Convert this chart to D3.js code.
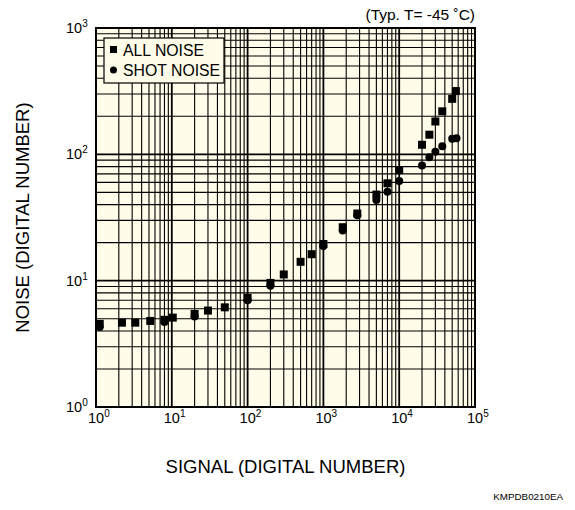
<!DOCTYPE html>
<html>
<head>
<meta charset="utf-8">
<script src="https://cdn.jsdelivr.net/npm/d3@7"></script>
<style>
  body { margin: 0; background: #fff; }
  svg { display: block; font-family: "Liberation Sans", Arial, sans-serif; }
</style>
</head>
<body>
<svg id="chart" width="575" height="510"></svg>
<script>
// values (log-log)
const xDecades = [0, 1, 2, 3, 4, 5];
const yDecades = [0, 1, 2, 3];

const allSignal = [1.12, 2.2, 3.3, 5.2, 8, 10.3, 20, 30, 50, 100, 200, 300, 500, 700, 1000, 1800, 2800, 5000, 7000, 10000, 20000, 25000, 30000, 37000, 50000, 56000];
const allNoise  = [4.55, 4.65, 4.65, 4.8, 4.9, 5.1, 5.45, 5.8, 6.15, 7.3, 9.6, 11.2, 14.1, 16.2, 19.5, 26.5, 34, 48, 59, 75, 119, 143, 182, 219, 275, 317];

const shotSignal = [1.12, 8, 20, 100, 200, 1000, 1800, 2800, 5000, 7000, 10000, 20000, 25000, 30000, 37000, 50000, 57000];
const shotNoise  = [4.3, 4.7, 5.2, 7.0, 9.1, 18.8, 25, 33, 43.5, 50.5, 61.5, 81.5, 95, 105, 116, 133, 134];

const W = 575, H = 510;
const margin = {top: 28, right: 100, bottom: 103, left: 96};

const svg = d3.select("#chart");

const x = d3.scaleLog().domain([1, 1e5]).range([margin.left, W - margin.right]);
const y = d3.scaleLog().domain([1, 1e3]).range([H - margin.bottom, margin.top]);

// plot background
svg.append("rect")
  .attr("x", margin.left).attr("y", margin.top)
  .attr("width", W - margin.left - margin.right)
  .attr("height", H - margin.top - margin.bottom)
  .attr("fill", "#fffce9");

// grid: 1..9 in every decade
const gridVals = (lo, hi) => {
  let out = [];
  for (let e = lo; e < hi; e++) {
    for (let m = 1; m < 10; m++) out.push({v: m * Math.pow(10, e), major: m == 1});
  }
  return out;
};

const grid = svg.append("g");

grid.selectAll("line.vx")
  .data(gridVals(0, 5).filter(d => !d.major))
  .join("line")
  .attr("class", "vx")
  .attr("x1", d => x(d.v)).attr("x2", d => x(d.v))
  .attr("y1", margin.top).attr("y2", H - margin.bottom)
  .attr("stroke", "#000").attr("stroke-width", 1.1);

grid.selectAll("line.hy")
  .data(gridVals(0, 3).filter(d => !d.major))
  .join("line")
  .attr("class", "hy")
  .attr("y1", d => y(d.v)).attr("y2", d => y(d.v))
  .attr("x1", margin.left).attr("x2", W - margin.right)
  .attr("stroke", "#000").attr("stroke-width", 1.1);

// decade lines a little heavier
grid.selectAll("line.mx")
  .data(xDecades.slice(1, -1))
  .join("line")
  .attr("class", "mx")
  .attr("x1", d => x(Math.pow(10, d))).attr("x2", d => x(Math.pow(10, d)))
  .attr("y1", margin.top).attr("y2", H - margin.bottom)
  .attr("stroke", "#000").attr("stroke-width", 1.8);

grid.selectAll("line.my")
  .data(yDecades.slice(1, -1))
  .join("line")
  .attr("class", "my")
  .attr("y1", d => y(Math.pow(10, d))).attr("y2", d => y(Math.pow(10, d)))
  .attr("x1", margin.left).attr("x2", W - margin.right)
  .attr("stroke", "#000").attr("stroke-width", 1.8);

// frame
svg.append("rect")
  .attr("x", margin.left).attr("y", margin.top)
  .attr("width", W - margin.left - margin.right)
  .attr("height", H - margin.top - margin.bottom)
  .attr("fill", "none").attr("stroke", "#000").attr("stroke-width", 2);

// points
const marks = svg.append("g");
marks.selectAll("circle")
  .data(d3.zip(shotSignal, shotNoise))
  .join("circle")
  .attr("cx", d => x(d[0])).attr("cy", d => y(d[1]))
  .attr("r", 4).attr("fill", "#000");

const sq = 8;
marks.selectAll("rect")
  .data(d3.zip(allSignal, allNoise))
  .join("rect")
  .attr("x", d => x(d[0]) - sq / 2).attr("y", d => y(d[1]) - sq / 2)
  .attr("width", sq).attr("height", sq)
  .attr("fill", "#000");

// tick labels 10^n
const xl = svg.append("g").attr("font-size", 14.5).attr("fill", "#000");
xDecades.forEach(e => {
  const t = xl.append("text")
    .attr("x", x(Math.pow(10, e)) - 8).attr("y", 423);
  t.append("tspan").text("10");
  t.append("tspan").attr("dy", -6).attr("font-size", 10).text(e);
});

const yl = svg.append("g").attr("font-size", 14.5).attr("fill", "#000");
yDecades.forEach(e => {
  const t = yl.append("text")
    .attr("x", 66).attr("y", y(Math.pow(10, e)) + 5);
  t.append("tspan").text("10");
  t.append("tspan").attr("dy", -6).attr("font-size", 10).text(e);
});

// axis titles
svg.append("text")
  .attr("x", (margin.left + W - margin.right) / 2).attr("y", 473)
  .attr("text-anchor", "middle").attr("font-size", 18.5)
  .text("SIGNAL (DIGITAL NUMBER)");

svg.append("text")
  .attr("transform", `translate(29,${(margin.top + H - margin.bottom) / 2}) rotate(-90)`)
  .attr("text-anchor", "middle").attr("font-size", 18.5)
  .text("NOISE (DIGITAL NUMBER)");

svg.append("text")
  .attr("x", W - margin.right).attr("y", 20)
  .attr("text-anchor", "end").attr("font-size", 15.5)
  .text("(Typ. T= -45 ˚C)");

svg.append("text")
  .attr("x", 563).attr("y", 500)
  .attr("text-anchor", "end").attr("font-size", 9.8)
  .text("KMPDB0210EA");

// legend
const lg = svg.append("g");
lg.append("rect")
  .attr("x", 104).attr("y", 38).attr("width", 120).attr("height", 45)
  .attr("fill", "#fffce9").attr("stroke", "#000").attr("stroke-width", 1.2);
lg.append("rect").attr("x", 110).attr("y", 46).attr("width", 7).attr("height", 7).attr("fill", "#000");
lg.append("circle").attr("cx", 113.5).attr("cy", 70).attr("r", 3.5).attr("fill", "#000");
lg.append("text").attr("x", 123).attr("y", 56).attr("font-size", 15.8).text("ALL NOISE");
lg.append("text").attr("x", 123).attr("y", 76).attr("font-size", 15.8).text("SHOT NOISE");
</script>
</body>
</html>
